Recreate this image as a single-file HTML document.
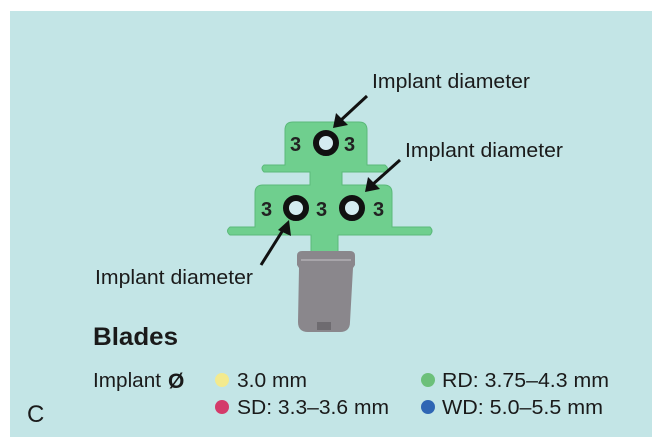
<!DOCTYPE html>
<html><head><style>
body{margin:0;background:#fff;}
svg{display:block;font-family:"Liberation Sans",sans-serif;}
</style></head><body>
<svg width="662" height="445" viewBox="0 0 662 445">
<rect x="10" y="11" width="642" height="426" fill="#c3e5e6"/>
<g fill="#6fcf8e" stroke="#5bb97a" stroke-width="1">
<path d="M285,165 L285,130 Q285,122 293,122 L359,122 Q367,122 367,130 L367,165 L385,165 Q389,168 387,172 L342,172 L342,185 L384,185 Q392,185 392,193 L392,227 L430,227 Q434,231 430,235 L338,235 L338,256 L311,256 L311,235 L230,235 Q225,231 230,227 L255,227 L255,193 Q255,185 263,185 L310,185 L310,172 L264,172 Q260,168 264,165 Z"/>
</g>
<path d="M297,256 Q297,251 302,251 L350,251 Q355,251 355,256 L355,265 L353,268 L350,322 Q350,332 340,332 L308,332 Q298,332 298,322 L299,268 L297,265 Z" fill="#8a878c"/>
<path d="M301,260 L351,260" stroke="#a8a5aa" stroke-width="2"/>
<rect x="317" y="322" width="14" height="8" fill="#6e6b70"/>
<g fill="#d4ecf0" stroke="#111" stroke-width="6">
<circle cx="326" cy="143" r="10"/>
<circle cx="296" cy="208" r="10"/>
<circle cx="352" cy="208" r="10"/>
</g>
<g font-weight="bold" font-size="20" fill="#222">
<text x="290" y="151">3</text><text x="344" y="151">3</text>
<text x="261" y="216">3</text><text x="316" y="216">3</text><text x="373" y="216">3</text>
</g>
<g stroke="#111" stroke-width="3">
<line x1="367" y1="96" x2="340" y2="121"/>
<line x1="400" y1="160" x2="372" y2="185"/>
<line x1="261" y1="265" x2="283" y2="230"/>
</g>
<g fill="#111">
<polygon points="333,128 336,113 348,125"/>
<polygon points="365,192 368,177 380,189"/>
<polygon points="289,220 278,230 291,236"/>
</g>
<g font-size="20" fill="#1a1a1a">
<text x="372" y="88" textLength="158" lengthAdjust="spacingAndGlyphs">Implant diameter</text>
<text x="405" y="157" textLength="158" lengthAdjust="spacingAndGlyphs">Implant diameter</text>
<text x="95" y="284" textLength="158" lengthAdjust="spacingAndGlyphs">Implant diameter</text>
</g>
<text x="93" y="345" font-size="25" font-weight="bold" fill="#1a1a1a" textLength="85" lengthAdjust="spacingAndGlyphs">Blades</text>
<g font-size="20" fill="#1a1a1a">
<text x="93" y="387" textLength="68" lengthAdjust="spacingAndGlyphs">Implant</text>
<text x="168" y="388" font-weight="bold" font-size="21">Ø</text>
<text x="237" y="387" textLength="70" lengthAdjust="spacingAndGlyphs">3.0 mm</text>
<text x="237" y="414" textLength="152" lengthAdjust="spacingAndGlyphs">SD: 3.3–3.6 mm</text>
<text x="442" y="387" textLength="167" lengthAdjust="spacingAndGlyphs">RD: 3.75–4.3 mm</text>
<text x="442" y="414" textLength="161" lengthAdjust="spacingAndGlyphs">WD: 5.0–5.5 mm</text>
</g>
<circle cx="222" cy="380" r="7" fill="#f3ea8e"/>
<circle cx="222" cy="407" r="7" fill="#d43b6a"/>
<circle cx="428" cy="380" r="7" fill="#6cc07a"/>
<circle cx="428" cy="407" r="7" fill="#2f66b4"/>
<text x="27" y="422" font-size="24" fill="#1a1a1a">C</text>
</svg>
</body></html>
